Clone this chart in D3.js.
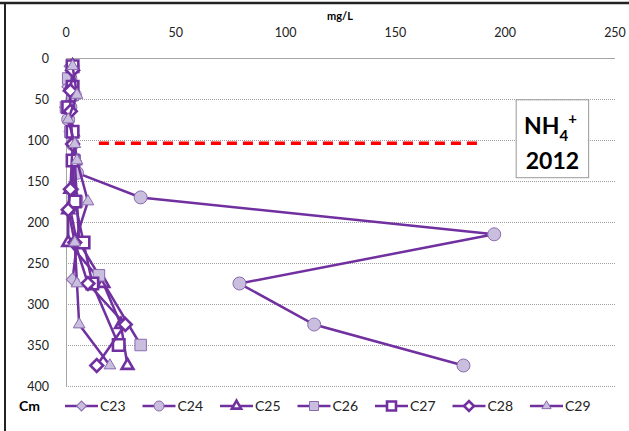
<!DOCTYPE html>
<html>
<head>
<meta charset="utf-8">
<script src="https://cdn.jsdelivr.net/npm/d3@7"></script>
<style>
  body { margin: 0; background: #fff; }
  svg { display: block; font-family: Lato, "Open Sans", sans-serif; }
</style>
</head>
<body>
<svg id="chart"></svg>
<script>
const width = 629;
const height = 431;

// depth (cm) and NH4+ (mg/L) for every core
const depthC23 = [10, 35, 60, 90, 125, 160, 185, 225, 270];
const valueC23 = [2, 1, 0, 2, 4, 3, 2, 5, 3];
const depthC24 = [10, 25, 45, 60, 75, 105, 140, 170, 215, 275, 325, 375];
const valueC24 = [3, 2, 4, 2, 1, 3, 5, 34, 195, 79, 113, 181];
const depthC25 = [10, 35, 60, 90, 125, 160, 185, 225, 275, 325, 375];
const valueC25 = [3, 2, 1, 3, 4, 2, 1, 1, 17, 25, 28];
const depthC26 = [25, 45, 60, 90, 125, 175, 225, 265, 350];
const valueC26 = [1, 3, 0, 2, 4, 5, 6, 15, 34];
const depthC27 = [10, 35, 60, 90, 125, 175, 225, 275, 350];
const valueC27 = [3, 3, 1, 3, 3, 4, 8, 12, 24];
const depthC28 = [15, 40, 65, 105, 160, 185, 225, 275, 325, 375];
const valueC28 = [3, 2, 2, 3, 2, 1, 4, 10, 27, 14];
const depthC29 = [10, 45, 75, 105, 125, 175, 225, 275, 325, 375];
const valueC29 = [3, 5, 1, 4, 5, 10, 4, 5, 6, 20];

const seriesNames = ["C23", "C24", "C25", "C26", "C27", "C28", "C29"];
const xTicks = [0, 50, 100, 150, 200, 250];
const yTicks = [0, 50, 100, 150, 200, 250, 300, 350, 400];

// red dashed reference line (mg/L from, to; depth)
const limitX = [15, 188];
const limitDepth = 104;

// label box corners in data units
const boxX = [205, 238];
const boxDepth = [51, 146];

const purple = "#7030a0";
const lilac = "#c9bedd";
const lilacEdge = "#8a6bb0";

const series = [
  {name: "C23", depth: depthC23, value: valueC23, shape: "diamond", hollow: false},
  {name: "C24", depth: depthC24, value: valueC24, shape: "circle", hollow: false},
  {name: "C25", depth: depthC25, value: valueC25, shape: "triangle", hollow: true},
  {name: "C26", depth: depthC26, value: valueC26, shape: "square", hollow: false},
  {name: "C27", depth: depthC27, value: valueC27, shape: "square", hollow: true},
  {name: "C28", depth: depthC28, value: valueC28, shape: "diamond", hollow: true},
  {name: "C29", depth: depthC29, value: valueC29, shape: "triangle", hollow: false}
];

let svg = d3.select("#chart")
  .attr("width", width)
  .attr("height", height);

let x = d3.scaleLinear().domain([0, 250]).range([66, 615]);
let y = d3.scaleLinear().domain([0, 400]).range([58, 386]);

// frame remains from the cropped picture
svg.append("line").attr("x1", 0).attr("x2", width).attr("y1", 3).attr("y2", 3)
  .attr("stroke", "#222").attr("stroke-width", 2.5);
svg.append("line").attr("x1", 5).attr("x2", 5).attr("y1", 2).attr("y2", height)
  .attr("stroke", "#222").attr("stroke-width", 2);

// gridlines
svg.append("g")
  .selectAll("line")
  .data(yTicks)
  .enter()
  .append("line")
  .attr("x1", x(0)).attr("x2", x(250))
  .attr("y1", d => y(d) + 0.5).attr("y2", d => y(d) + 0.5)
  .attr("stroke", d => d === 0 ? "#a6a6a6" : "#a0a0a0")
  .attr("stroke-width", 1)
  .attr("stroke-dasharray", d => d === 0 ? null : "1,1");

svg.append("line")
  .attr("x1", x(0) + 0.5).attr("x2", x(0) + 0.5)
  .attr("y1", y(0)).attr("y2", y(400))
  .attr("stroke", "#a6a6a6");

// tick labels
svg.append("g")
  .selectAll("text")
  .data(xTicks)
  .enter()
  .append("text")
  .attr("x", d => x(d))
  .attr("y", 37)
  .attr("text-anchor", "middle")
  .attr("font-size", 12.5)
  .attr("fill", "#222")
  .text(d => d);

svg.append("g")
  .selectAll("text")
  .data(yTicks)
  .enter()
  .append("text")
  .attr("x", 49)
  .attr("y", d => y(d) + 4.5)
  .attr("text-anchor", "end")
  .attr("font-size", 12.5)
  .attr("fill", "#222")
  .text(d => d);

svg.append("text")
  .attr("x", 340).attr("y", 20)
  .attr("text-anchor", "middle")
  .attr("font-size", 11).attr("font-weight", 700)
  .text("mg/L");

// red dashed line
svg.append("line")
  .attr("x1", x(limitX[0])).attr("x2", x(limitX[1]))
  .attr("y1", y(limitDepth)).attr("y2", y(limitDepth))
  .attr("stroke", "#ff0000").attr("stroke-width", 3.5)
  .attr("stroke-dasharray", "10,6");

// NH4+ 2012 box
let box = svg.append("g");
box.append("rect")
  .attr("x", x(boxX[0])).attr("y", y(boxDepth[0]))
  .attr("width", x(boxX[1]) - x(boxX[0]))
  .attr("height", y(boxDepth[1]) - y(boxDepth[0]))
  .attr("fill", "#fff").attr("stroke", "#999").attr("stroke-width", 1);
let boxMid = (x(boxX[0]) + x(boxX[1])) / 2;
let t1 = box.append("text")
  .attr("x", boxMid - 2).attr("y", y(boxDepth[0]) + 34)
  .attr("text-anchor", "middle")
  .attr("font-size", 23).attr("font-weight", 700);
t1.append("tspan").text("NH");
t1.append("tspan").attr("font-size", 15).attr("dy", 7).text("4");
t1.append("tspan").attr("font-size", 15).attr("dy", -17).text("+");
box.append("text")
  .attr("x", boxMid).attr("y", y(boxDepth[0]) + 69)
  .attr("text-anchor", "middle")
  .attr("font-size", 23).attr("font-weight", 700)
  .text("2012");

// marker drawing
function markerPath(shape, s) {
  if (shape === "circle") return d3.symbol(d3.symbolCircle, s * s * Math.PI / 4)();
  if (shape === "triangle") return d3.symbol(d3.symbolTriangle, s * s * 0.45)();
  return d3.symbol(d3.symbolSquare, s * s)();
}

function drawMarker(g, d, s, px, py) {
  let m = g.append("path")
    .attr("d", markerPath(d.shape, s))
    .attr("transform", "translate(" + px + "," + py + ")" + (d.shape === "diamond" ? " rotate(45)" : ""));
  if (d.hollow) {
    m.attr("fill", "#fff").attr("stroke", purple).attr("stroke-width", 2.6);
  } else {
    m.attr("fill", lilac).attr("stroke", lilacEdge).attr("stroke-width", 1);
  }
}

let line = d3.line().x(d => x(d[1])).y(d => y(d[0]));

series.forEach(function(d) {
  let pts = d.depth.map((v, i) => [v, d.value[i]]);
  let g = svg.append("g").attr("class", d.name);
  g.append("path")
    .datum(pts)
    .attr("d", line)
    .attr("fill", "none")
    .attr("stroke", purple)
    .attr("stroke-width", 2.5);
  let size = d.shape === "diamond" ? 9 : (d.shape === "circle" ? 13 : 11.5);
  pts.forEach(p => drawMarker(g, d, size, x(p[1]), y(p[0])));
});

// legend
svg.append("text")
  .attr("x", 19).attr("y", 411)
  .attr("font-size", 14).attr("font-weight", 700)
  .text("Cm");

let legend = svg.append("g");
series.forEach(function(d, i) {
  let lx = 65 + i * 77.5;
  let ly = 406;
  legend.append("line")
    .attr("x1", lx).attr("x2", lx + 33)
    .attr("y1", ly).attr("y2", ly)
    .attr("stroke", purple).attr("stroke-width", 2.5);
  let size = d.shape === "diamond" ? 7 : (d.shape === "circle" ? 10 : 9);
  drawMarker(legend, d, size, lx + 16.5, ly);
  legend.append("text")
    .attr("x", lx + 35).attr("y", ly + 5)
    .attr("font-size", 14)
    .attr("fill", "#222")
    .text(d.name);
});
</script>
</body>
</html>
